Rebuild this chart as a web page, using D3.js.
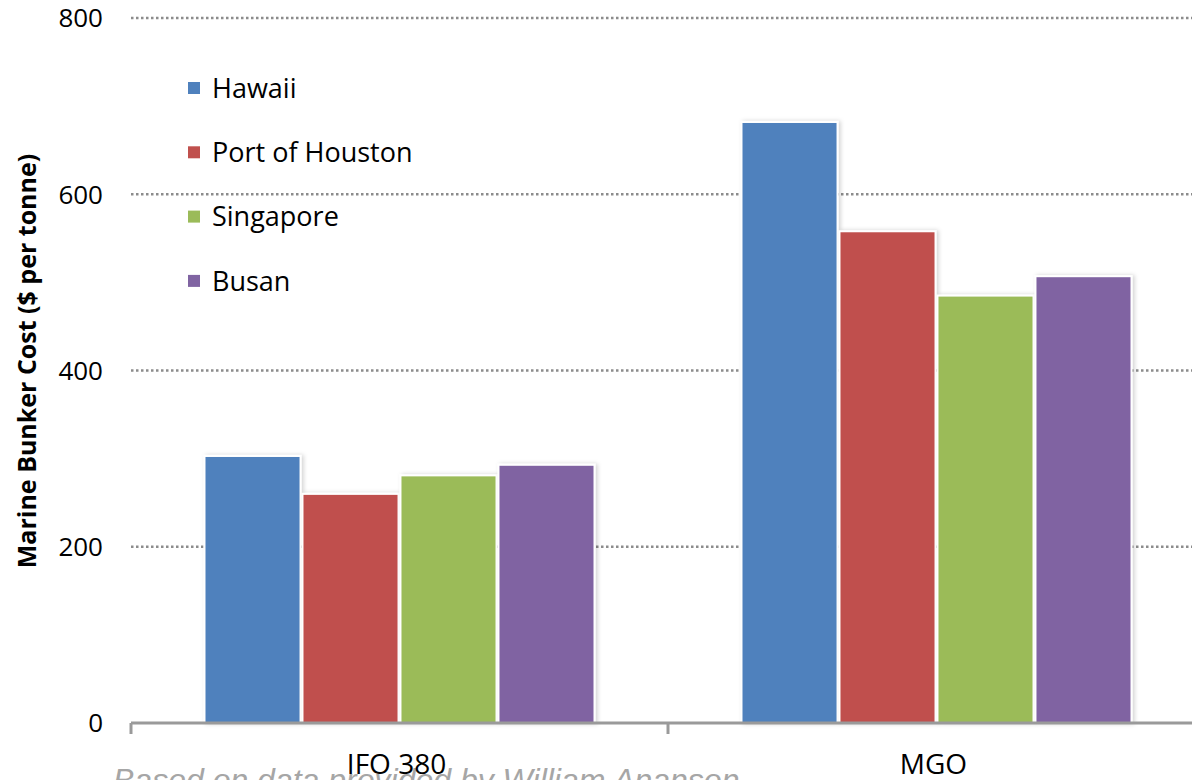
<!DOCTYPE html>
<html><head><meta charset="utf-8">
<script src="https://cdn.jsdelivr.net/npm/d3@7"></script>
<style>body{margin:0;background:#fff}svg{display:block}</style>
</head><body>
<svg id="c" width="1192" height="780"></svg>
<script>
const categories = ["IFO 380", "MGO"];
const seriesNames = ["Hawaii", "Port of Houston", "Singapore", "Busan"];
const hawaii = [303, 682];
const houston = [260, 558];
const singapore = [281, 485];
const busan = [293, 507];
const yTicks = [0, 200, 400, 600, 800];
const colors = ["#4F81BD", "#C0504D", "#9BBB59", "#8064A2"];
const yLabel = "Marine Bunker Cost ($ per tonne)";
const footer = "Based on data provided by William Ananson";

const seriesValues = [hawaii, houston, singapore, busan];
const svg = d3.select("#c");
const font = "'Open Sans', 'Noto Sans', sans-serif";

const x0 = 131, x1 = 1205, yTop = 18, yBot = 723;
const x = d3.scaleBand().domain(categories).range([x0, x1]).paddingInner(0).paddingOuter(0);
const y = d3.scaleLinear().domain([0, 800]).range([yBot, yTop]);
const xs = d3.scaleBand().domain(seriesNames).range([0, x.bandwidth()]).paddingOuter(0.75).paddingInner(0.02);

const defs = svg.append("defs");
const f = defs.append("filter").attr("id","sh").attr("x","-10%").attr("y","-5%").attr("width","130%").attr("height","110%");
f.append("feDropShadow").attr("dx",2).attr("dy",0).attr("stdDeviation",2).attr("flood-color","#000").attr("flood-opacity",0.18);

// gridlines
svg.append("g").selectAll("line").data(yTicks.filter(d=>d>0)).join("line")
  .attr("x1", x0).attr("x2", 1192).attr("y1", d=>y(d)).attr("y2", d=>y(d))
  .attr("stroke", "#8c8c8c").attr("stroke-width", 2.5).attr("stroke-dasharray", "2.5,2.5");

// y tick labels
svg.append("g").selectAll("text").data(yTicks).join("text")
  .attr("x", 103).attr("y", d=>y(d)).attr("dy","0.36em").attr("text-anchor","end")
  .attr("font-family", font).attr("font-size", 26).attr("fill","#000").text(d=>d);

// bars
const groups = svg.append("g").selectAll("g").data(seriesNames).join("g");
groups.each(function(s, si){
  d3.select(this).selectAll("rect").data(categories).join("rect")
    .attr("x", c => x(c) + xs(s))
    .attr("y", (c, ci) => y(seriesValues[si][ci]))
    .attr("width", xs.bandwidth())
    .attr("height", (c, ci) => yBot - y(seriesValues[si][ci]))
    .attr("fill", colors[si]).attr("stroke", "#fff").attr("stroke-width", 2)
    .attr("filter", "url(#sh)");
});

// x axis
svg.append("line").attr("x1", x0).attr("x2", 1192).attr("y1", yBot).attr("y2", yBot)
  .attr("stroke", "#9a9a9a").attr("stroke-width", 3);
svg.append("g").selectAll("line").data(categories).join("line")
  .attr("x1", c=>x(c)).attr("x2", c=>x(c)).attr("y1", yBot).attr("y2", yBot+11)
  .attr("stroke", "#9a9a9a").attr("stroke-width", 3);

// footer (behind category labels)
svg.append("text").attr("x", 113).attr("y", 791)
  .attr("font-family", "'Liberation Sans', Arial, sans-serif").attr("font-style","italic")
  .attr("font-size", 32).attr("fill", "#a6a6a6").text(footer);

svg.append("g").selectAll("text").data(categories).join("text")
  .attr("x", c=>x(c)+x.bandwidth()/2 - 3).attr("y", 774).attr("text-anchor","middle")
  .attr("font-family", font).attr("font-size", 28).attr("fill","#000").text(c=>c);

// y label
svg.append("text").attr("transform", "translate(36,361) rotate(-90)").attr("text-anchor","middle")
  .attr("font-family", font).attr("font-weight","bold").attr("font-size", 25).attr("fill","#000").text(yLabel);

// legend
const lg = svg.append("g").selectAll("g").data(seriesNames).join("g")
  .attr("transform", (d,i)=>`translate(188,${88 + i*64.3})`);
lg.append("rect").attr("x",0).attr("y",-6).attr("width",12).attr("height",12).attr("fill",(d,i)=>colors[i]);
lg.append("text").attr("x",24).attr("dy","0.36em").attr("font-family", font).attr("font-size",27).attr("fill","#000").text(d=>d);
</script>
</body></html>
